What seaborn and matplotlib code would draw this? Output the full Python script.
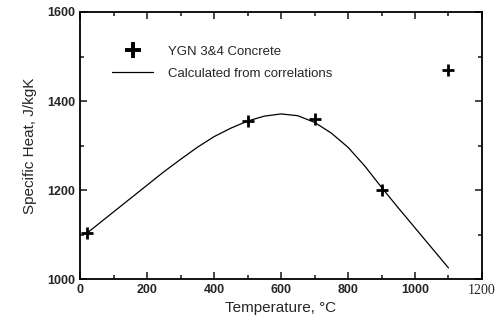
import matplotlib
matplotlib.use("Agg")
import matplotlib.pyplot as plt
import seaborn as sns
import pandas as pd
from matplotlib.lines import Line2D
from matplotlib.ticker import MultipleLocator

# measured data
meas_temp = [20, 500, 700, 900, 1100]
meas_cp = [1103, 1355, 1359, 1199, 1470]

# correlation curve
calc_temp = [20, 100, 200, 250, 300, 350, 400, 450, 500, 550, 600, 650, 700, 750, 800, 850, 900, 950, 1000, 1050, 1100]
calc_cp = [1103, 1151, 1211, 1241, 1269, 1296, 1320, 1339, 1355, 1366, 1371, 1367, 1352, 1328, 1296, 1254, 1206, 1160, 1115, 1070, 1025]

xticks = [0, 200, 400, 600, 800, 1000, 1200]
yticks = [1000, 1200, 1400, 1600]

sns.set_style("ticks")
plt.rcParams['font.family'] = ['Liberation Sans', 'DejaVu Sans']

fig = plt.figure(figsize=(5.01, 3.2), dpi=100)
ax = fig.add_axes([0.16, 0.128, 0.802, 0.8345])

df_c = pd.DataFrame({"T": calc_temp, "cp": calc_cp})
df_m = pd.DataFrame({"T": meas_temp, "cp": meas_cp})
sns.lineplot(data=df_c, x="T", y="cp", ax=ax, color="black", lw=0.9)
sns.scatterplot(data=df_m, x="T", y="cp", ax=ax, marker="+", s=70, color="black",
                linewidth=2.0, zorder=3)

ax.set_xlim(0, 1200)
ax.set_ylim(1000, 1600)
ax.set_xticks(xticks)
ax.set_yticks(yticks)
ax.xaxis.set_minor_locator(MultipleLocator(100))
ax.yaxis.set_minor_locator(MultipleLocator(100))
ax.tick_params(which="both", direction="in", top=True, right=True, width=1.2)
ax.tick_params(which="major", length=5, labelsize=9)
ax.tick_params(which="minor", length=3)
for lab in ax.get_xticklabels() + ax.get_yticklabels():
    lab.set_fontweight("bold")
xl = ax.get_xticklabels()
xl[-1].set_fontfamily(["Liberation Serif"])
xl[-1].set_fontweight("normal")
xl[-1].set_fontsize(10)
for s in ax.spines.values():
    s.set_linewidth(1.3)
    s.set_color("black")

ax.set_xlabel("Temperature, °C", fontsize=11, labelpad=3)
ax.set_ylabel("Specific Heat, J/kgK", fontsize=11, labelpad=7)

handles = [
    Line2D([], [], color="black", marker="+", ls="none", markersize=12, mew=2.8),
    Line2D([], [], color="black", lw=0.9),
]
ax.legend(handles, ["YGN 3&4 Concrete", "Calculated from correlations"],
          loc="upper left", bbox_to_anchor=(0.08, 0.875), frameon=False,
          fontsize=9.5, handlelength=3.1, handletextpad=1.1, labelspacing=0.75,
          borderpad=0, borderaxespad=0)

fig.savefig("out.png", dpi=100)
